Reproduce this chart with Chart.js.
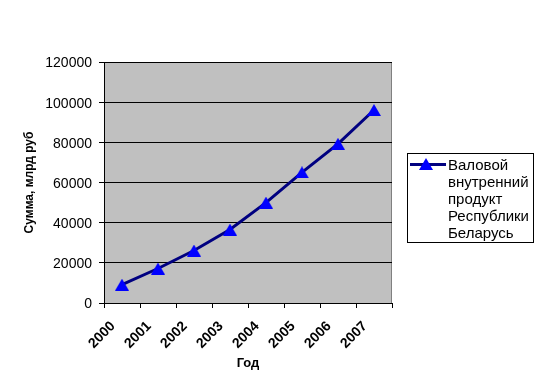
<!DOCTYPE html>
<html>
<head>
<meta charset="utf-8">
<script src="https://cdn.jsdelivr.net/npm/chart.js@4/dist/chart.umd.min.js"></script>
<style>
  html, body { margin: 0; padding: 0; background: #ffffff; }
  #wrap { position: relative; width: 544px; height: 390px; }
</style>
</head>
<body>
<div id="wrap"><canvas id="c" width="544" height="390"></canvas></div>
<script>
const years = ['2000', '2001', '2002', '2003', '2004', '2005', '2006', '2007'];
const gdpValues = [9133, 17173, 26139, 36565, 49992, 65067, 79267, 96087];
const seriesLabelLines = ['Валовой', 'внутренний', 'продукт', 'Республики', 'Беларусь'];
const yAxisTitle = 'Сумма, млрд руб';
const xAxisTitle = 'Год';

const FONT = 'Arial, "Liberation Sans", sans-serif';

// Excel-like triangle marker (centered on its bounding box)
function makeTriangle() {
  const c = document.createElement('canvas');
  c.width = 14; c.height = 12;
  const g = c.getContext('2d');
  g.fillStyle = '#0000FF';
  g.beginPath();
  g.moveTo(7, 0);
  g.lineTo(14, 12);
  g.lineTo(0, 12);
  g.closePath();
  g.fill();
  return c;
}
const tri = makeTriangle();

const plotBg = {
  id: 'plotBg',
  beforeDraw(chart) {
    const { ctx, chartArea: a } = chart;
    ctx.save();
    ctx.fillStyle = '#C0C0C0';
    ctx.fillRect(a.left, a.top, a.right - a.left, a.bottom - a.top);
    ctx.strokeStyle = '#808080';
    ctx.lineWidth = 1;
    ctx.beginPath();
    ctx.moveTo(a.left, a.top + 0.5);
    ctx.lineTo(a.right - 0.5, a.top + 0.5);
    ctx.lineTo(a.right - 0.5, a.bottom);
    ctx.stroke();
    ctx.restore();
  }
};

const customLegend = {
  id: 'customLegend',
  afterDraw(chart) {
    const ctx = chart.ctx;
    const ds = chart.data.datasets[0];
    const bx = 407, by = 153, bw = 126, bh = 89;
    ctx.save();
    ctx.fillStyle = '#ffffff';
    ctx.fillRect(bx, by, bw, bh);
    ctx.strokeStyle = '#000000';
    ctx.lineWidth = 1;
    ctx.strokeRect(bx + 0.5, by + 0.5, bw, bh);
    const ly = 164.5;
    ctx.strokeStyle = ds.borderColor;
    ctx.lineWidth = ds.borderWidth;
    ctx.beginPath();
    ctx.moveTo(410, ly);
    ctx.lineTo(446, ly);
    ctx.stroke();
    ctx.drawImage(tri, 426 - 7, ly - 6.5);
    ctx.fillStyle = '#000000';
    ctx.font = '15px ' + FONT;
    ctx.textBaseline = 'middle';
    ctx.textAlign = 'left';
    ds.labelLines.forEach((t, i) => ctx.fillText(t, 448, 165.5 + i * 17));
    ctx.restore();
  }
};

new Chart(document.getElementById('c'), {
  type: 'line',
  data: {
    labels: years,
    datasets: [{
      label: seriesLabelLines.join(' '),
      labelLines: seriesLabelLines,
      data: gdpValues,
      borderColor: '#000080',
      backgroundColor: '#0000FF',
      borderWidth: 3,
      pointStyle: tri,
      pointRadius: 7,
      pointHoverRadius: 7,
      tension: 0,
      fill: false
    }]
  },
  options: {
    responsive: false,
    animation: false,
    events: [],
    layout: { padding: { top: 62, right: 152, left: 0, bottom: 0 } },
    plugins: {
      legend: { display: false },
      tooltip: { enabled: false },
      title: { display: false }
    },
    scales: {
      x: {
        type: 'category',
        offset: true,
        grid: { display: true, drawOnChartArea: false, drawTicks: true, tickLength: 5, offset: true, color: '#000000', lineWidth: 1 },
        border: { display: true, color: '#000000', width: 1 },
        ticks: {
          color: '#000000',
          font: { family: FONT, size: 14, weight: 'bold' },
          minRotation: 45, maxRotation: 45,
          padding: 10,
          labelOffset: -9,
          autoSkip: false
        },
        title: {
          display: true, text: xAxisTitle, color: '#000000',
          font: { family: FONT, size: 13, weight: 'bold' },
          padding: { top: 0, bottom: 19 }
        },
        afterFit(scale) { scale.height = 87; }
      },
      y: {
        min: 0, max: 120000,
        grid: { color: '#000000', lineWidth: 1, drawTicks: true, tickLength: 5 },
        border: { display: true, color: '#000000', width: 1 },
        ticks: {
          stepSize: 20000,
          color: '#000000',
          font: { family: FONT, size: 14 },
          padding: 7,
          labelOffset: 1.5,
          callback: v => String(v)
        },
        title: {
          display: true, text: yAxisTitle, color: '#000000',
          font: { family: FONT, size: 12, weight: 'bold' },
          padding: { top: 22, bottom: 0 }
        },
        afterFit(scale) { scale.width = 104; }
      }
    }
  },
  plugins: [plotBg, customLegend]
});
</script>
</body>
</html>
